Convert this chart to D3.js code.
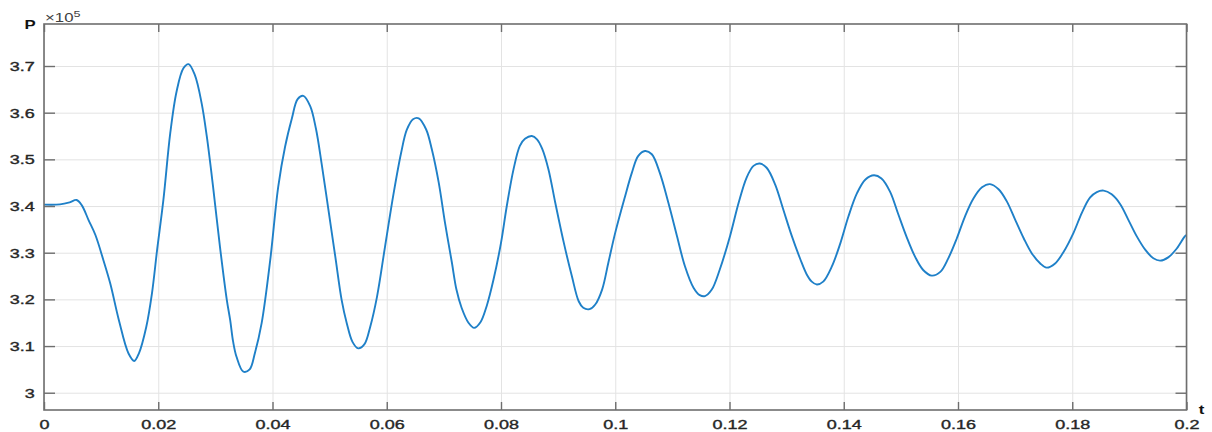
<!doctype html>
<html lang="en">
<head>
<meta charset="utf-8">
<title>P vs t</title>
<script src="https://cdn.jsdelivr.net/npm/d3@7"></script>
<style>
	body { margin: 0; background: #fff; }
	.tick text { font-family: "Liberation Sans", Arial, sans-serif; font-size: 12px; fill: #262626; stroke: #262626; stroke-width: 0.35px; }
	.grid line { stroke: #e3e3e3; stroke-width: 1; }
	.grid path.domain { stroke: none; }
</style>
</head>
<body>
<div id="viz"></div>
<script>

// pressure trace (P in units of 1e5)
var tValues = [0, 0.0028, 0.0045, 0.0057, 0.0066, 0.0078, 0.009, 0.0104, 0.0116, 0.0131,
	0.0148, 0.0158, 0.0166, 0.0179, 0.0189, 0.0198, 0.0209, 0.0221, 0.0232, 0.0244,
	0.0253, 0.0264, 0.0276, 0.0285, 0.0296, 0.0308, 0.032, 0.0326, 0.0331, 0.0337,
	0.0349, 0.036, 0.0369, 0.0381, 0.0396, 0.041, 0.0422, 0.0434, 0.0444, 0.0454,
	0.0466, 0.0476, 0.0486, 0.0498, 0.051, 0.0521, 0.053, 0.054, 0.055, 0.0561,
	0.0571, 0.0583, 0.0597, 0.0612, 0.0625, 0.0635, 0.0646, 0.0656, 0.0669, 0.0679,
	0.0691, 0.0702, 0.0714, 0.0722, 0.0731, 0.0743, 0.0753, 0.0764, 0.0775, 0.0787,
	0.08, 0.081, 0.0822, 0.0833, 0.0842, 0.0854, 0.0863, 0.0872, 0.0883, 0.0895,
	0.091, 0.0924, 0.0936, 0.0944, 0.0955, 0.0965, 0.0977, 0.0988, 0.1, 0.1017,
	0.1029, 0.104, 0.1052, 0.1064, 0.1078, 0.1093, 0.1108, 0.1122, 0.1137, 0.1148,
	0.1157, 0.1169, 0.1183, 0.1201, 0.1216, 0.123, 0.1242, 0.1253, 0.1265, 0.128,
	0.1294, 0.1309, 0.1324, 0.1335, 0.1344, 0.1353, 0.1364, 0.1379, 0.1394, 0.1408, 0.1423,
	0.1438, 0.1453, 0.1466, 0.1481, 0.1495, 0.151, 0.1525, 0.1539, 0.1554, 0.1569,
	0.1583, 0.1598, 0.1612, 0.1627, 0.1642, 0.1656, 0.1671, 0.1685, 0.17, 0.1715,
	0.1729, 0.1744, 0.1755, 0.177, 0.1785, 0.1802, 0.1817, 0.1831, 0.1843, 0.1855,
	0.1869, 0.1884, 0.1898, 0.1913, 0.1928, 0.1942, 0.1954, 0.1968, 0.1983, 0.1997, 0.2];

var pValues = [3.403, 3.4035, 3.408, 3.413, 3.402, 3.37, 3.338, 3.284, 3.234, 3.156,
	3.084, 3.068, 3.084, 3.141, 3.213, 3.306, 3.413, 3.556, 3.645, 3.695,
	3.704, 3.681, 3.62, 3.549, 3.441, 3.313, 3.199, 3.155, 3.11, 3.077,
	3.045, 3.05, 3.084, 3.149, 3.284, 3.441, 3.527, 3.588, 3.629, 3.636,
	3.614, 3.566, 3.491, 3.391, 3.291, 3.199, 3.149, 3.109, 3.095, 3.104,
	3.141, 3.206, 3.313, 3.427, 3.513, 3.563, 3.586, 3.588, 3.564, 3.521,
	3.45, 3.364, 3.279, 3.221, 3.182, 3.15, 3.139, 3.151, 3.186, 3.243,
	3.321, 3.399, 3.479, 3.529, 3.544, 3.55, 3.543, 3.523, 3.479, 3.407,
	3.321, 3.25, 3.196, 3.182, 3.179, 3.189, 3.221, 3.279, 3.343, 3.42,
	3.471, 3.507, 3.518, 3.511, 3.471, 3.407, 3.336, 3.271, 3.225, 3.209,
	3.207, 3.221, 3.264, 3.336, 3.407, 3.461, 3.486, 3.491, 3.482, 3.446,
	3.393, 3.336, 3.286, 3.254, 3.238, 3.232, 3.238, 3.27, 3.32, 3.377, 3.427,
	3.457, 3.466, 3.459, 3.431, 3.384, 3.334, 3.291, 3.263, 3.251, 3.259,
	3.288, 3.331, 3.377, 3.416, 3.44, 3.447, 3.436, 3.411, 3.371, 3.331,
	3.299, 3.277, 3.268, 3.277, 3.302, 3.342, 3.386, 3.418, 3.43, 3.433,
	3.425, 3.404, 3.371, 3.335, 3.306, 3.288, 3.283, 3.29, 3.309, 3.335, 3.338];

var xTicks = [0, 0.02, 0.04, 0.06, 0.08, 0.1, 0.12, 0.14, 0.16, 0.18, 0.2];
var yTicks = [3, 3.1, 3.2, 3.3, 3.4, 3.5, 3.6, 3.7];

var w = 1212,
	h = 432;
var margin = {top: 24, right: 25.5, bottom: 22, left: 44};
var width = w - margin.left - margin.right,
	height = h - margin.top - margin.bottom;

var data = tValues.map((t, i) => ({t: t, p: pValues[i]}));

var xScale = d3.scaleLinear().domain([0, 0.2]).range([0, width]);
var yScale = d3.scaleLinear().domain([2.963, 3.79]).range([height, 0]);

var svg = d3.select("#viz").append("svg")
	.attr("width", w)
	.attr("height", h);

var g = svg.append("g")
	.attr("transform", "translate(" + margin.left + "," + margin.top + ")");

// grid
g.append("g")
	.attr("class", "grid")
	.attr("transform", "translate(0," + height + ")")
	.call(d3.axisBottom(xScale).tickValues(xTicks).tickSize(-height).tickFormat(""));
g.append("g")
	.attr("class", "grid")
	.call(d3.axisLeft(yScale).tickValues(yTicks).tickSize(-width).tickFormat(""));

// the trace
var line = d3.line()
	.x(d => xScale(d.t))
	.y(d => yScale(d.p))
	.curve(d3.curveCatmullRom.alpha(0.5));

g.append("path")
	.datum(data)
	.attr("fill", "none")
	.attr("stroke", "#1f80c8")
	.attr("stroke-width", 1.9)
	.attr("stroke-linejoin", "round")
	.attr("d", line);

// axes, ticks pointing inward like matlab
var axisColor = "#6e6e6e";
var fmt = d => d3.format("")(+d.toFixed(2));

var xAxis = g.append("g")
	.attr("transform", "translate(0," + height + ")")
	.call(d3.axisBottom(xScale).tickValues(xTicks).tickSizeInner(-8).tickSizeOuter(0).tickPadding(10).tickFormat(fmt));
var xTop = g.append("g")
	.call(d3.axisTop(xScale).tickValues(xTicks).tickSizeInner(-8).tickSizeOuter(0).tickFormat(""));
var yAxis = g.append("g")
	.call(d3.axisLeft(yScale).tickValues(yTicks).tickSizeInner(-11).tickSizeOuter(0).tickPadding(6.2).tickFormat(fmt));
var yRight = g.append("g")
	.attr("transform", "translate(" + width + ",0)")
	.call(d3.axisRight(yScale).tickValues(yTicks).tickSizeInner(-11).tickSizeOuter(0).tickFormat(""));

[xAxis, xTop, yAxis, yRight].forEach(a => {
	a.select(".domain").remove();
	a.selectAll(".tick line").attr("stroke", axisColor).attr("stroke-width", 1.4);
});

// the tick labels in the picture are stretched sideways
xAxis.selectAll(".tick text").attr("transform", "scale(1.5,1)");
yAxis.selectAll(".tick text").attr("transform", "scale(1.5,1)").attr("dy", "0.36em");

// box
g.append("rect")
	.attr("width", width)
	.attr("height", height)
	.attr("fill", "none")
	.attr("stroke", axisColor)
	.attr("stroke-width", 1.6);

// labels
svg.append("text")
	.attr("transform", "translate(30,29) scale(1.4,1)")
	.attr("text-anchor", "middle")
	.style("font", "bold 12px 'Liberation Sans', Arial, sans-serif")
	.style("fill", "#111")
	.text("P");

var expo = svg.append("text")
	.attr("transform", "translate(45,21.5) scale(1.4,1)")
	.style("font", "12px 'Liberation Sans', Arial, sans-serif")
	.style("fill", "#404040");
expo.append("tspan").text("×10");
expo.append("tspan").attr("dy", -5).style("font-size", "9px").text("5");

svg.append("text")
	.attr("transform", "translate(1201.5,414) scale(1.4,1)")
	.attr("text-anchor", "middle")
	.style("font", "bold 12px 'Liberation Sans', Arial, sans-serif")
	.style("fill", "#111")
	.text("t");

</script>
</body>
</html>
